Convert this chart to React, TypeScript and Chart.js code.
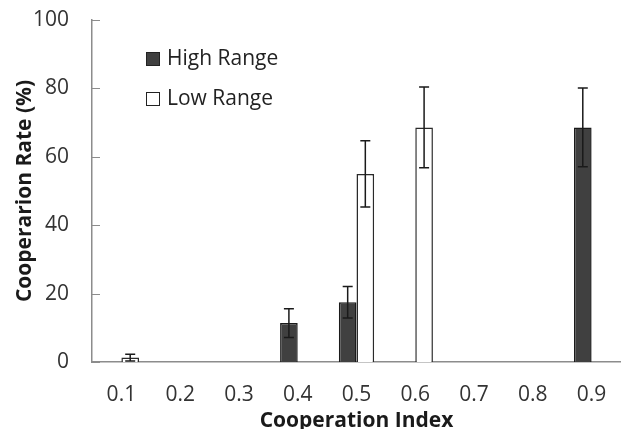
import React, { useEffect, useRef } from "react";
import { Chart, registerables } from "chart.js";

Chart.register(...registerables);

const categories = ["0.1", "0.2", "0.3", "0.4", "0.5", "0.6", "0.7", "0.8", "0.9"];
const highValues = [null, null, null, 11.4, 17.5, null, null, null, 68.6];
const highErrors = [null, null, null, 4.2, 4.6, null, null, null, 11.5];
const lowValues = [1.3, null, null, null, 55, 68.6, null, null, null];
const lowErrors = [1.0, null, null, null, 9.7, 11.8, null, null, null];
const yTicks = [0, 20, 40, 60, 80, 100];

const FONT = "'Open Sans', 'Noto Sans', sans-serif";

const errorBarPlugin = {
  id: "errorBars",
  afterDatasetsDraw(chart: any) {
    const { ctx, scales } = chart;
    const y = scales.y;
    const errs = [highErrors, lowErrors];
    chart.data.datasets.forEach((ds: any, di: number) => {
      const meta = chart.getDatasetMeta(di);
      meta.data.forEach((bar: any, i: number) => {
        const v = ds.data[i];
        const e = errs[di][i];
        if (v == null || e == null) return;
        const x = bar.x;
        const yt = y.getPixelForValue(v + e);
        const yb = y.getPixelForValue(Math.max(0, v - e));
        ctx.save();
        ctx.strokeStyle = "#1a1a1a";
        ctx.lineWidth = 1.5;
        ctx.beginPath();
        ctx.moveTo(x, yt);
        ctx.lineTo(x, yb);
        ctx.moveTo(x - 5, yt);
        ctx.lineTo(x + 5, yt);
        ctx.moveTo(x - 5, yb);
        ctx.lineTo(x + 5, yb);
        ctx.stroke();
        ctx.restore();
      });
    });
  },
};

const innerTicksPlugin = {
  id: "innerTicks",
  afterDraw(chart: any) {
    const { ctx, scales, chartArea } = chart;
    const y = scales.y;
    ctx.save();
    ctx.strokeStyle = "#8c8c8c";
    ctx.lineWidth = 1;
    yTicks.forEach((t) => {
      const py = Math.round(y.getPixelForValue(t)) + 0.5;
      ctx.beginPath();
      ctx.moveTo(chartArea.left, py);
      ctx.lineTo(chartArea.left + 8, py);
      ctx.stroke();
    });
    ctx.restore();
  },
};

const legendPlugin = {
  id: "customLegend",
  afterDraw(chart: any) {
    const { ctx } = chart;
    const x0 = 146;
    const rows = [59, 99];
    chart.data.datasets.forEach((ds: any, i: number) => {
      const cy = rows[i];
      ctx.save();
      ctx.fillStyle = ds.backgroundColor;
      ctx.fillRect(x0, cy - 7, 14, 14);
      ctx.strokeStyle = "#222";
      ctx.lineWidth = 1;
      ctx.strokeRect(x0 + 0.5, cy - 6.5, 13, 13);
      ctx.fillStyle = "#222";
      ctx.font = `21px ${FONT}`;
      ctx.textBaseline = "middle";
      ctx.textAlign = "left";
      ctx.fillText(ds.label, x0 + 21, cy);
      ctx.restore();
    });
  },
};

export default function App() {
  const ref = useRef<HTMLCanvasElement | null>(null);
  useEffect(() => {
    if (!ref.current) return;
    const chart = new Chart(ref.current, {
      type: "bar",
      data: {
        labels: categories,
        datasets: [
          {
            label: "High Range",
            data: highValues as any,
            backgroundColor: "#404040",
            borderColor: "#1a1a1a",
            borderWidth: 1.5,
            categoryPercentage: 0.6,
            barPercentage: 1,
          },
          {
            label: "Low Range",
            data: lowValues as any,
            backgroundColor: "#ffffff",
            borderColor: "#2a2a2a",
            borderWidth: 1.5,
            categoryPercentage: 0.6,
            barPercentage: 1,
          },
        ],
      },
      options: {
        animation: false,
        responsive: false,
        maintainAspectRatio: false,
        layout: { padding: { top: 20, right: 0, bottom: 0, left: 0 } },
        plugins: { legend: { display: false }, tooltip: { enabled: false } },
        scales: {
          x: {
            grid: { display: false, drawTicks: false },
            border: { display: true, color: "#8c8c8c", width: 1.5 },
            ticks: { color: "#333", font: { family: FONT, size: 21 }, padding: 20 },
            title: {
              display: true,
              text: "Cooperation Index",
              color: "#1a1a1a",
              font: { family: FONT, size: 21, weight: "bold", lineHeight: 1 },
              padding: { top: 0, bottom: -3 },
            },
            afterFit: (s: any) => {
              s.height = 67;
              s.paddingLeft = 0;
              s.paddingRight = 0;
            },
          },
          y: {
            min: 0,
            max: 100,
            grid: { display: false, drawTicks: false },
            border: { display: true, color: "#8c8c8c", width: 1.5 },
            ticks: {
              stepSize: 20,
              color: "#333",
              font: { family: FONT, size: 21 },
              padding: 23,
            },
            title: {
              display: true,
              text: "Cooperarion Rate (%)",
              color: "#1a1a1a",
              font: { family: FONT, size: 21, weight: "bold", lineHeight: 1.2 },
              padding: { top: 12, bottom: 0 },
            },
            afterFit: (s: any) => {
              s.width = 92;
              s.paddingTop = 0;
              s.paddingBottom = 0;
            },
          },
        },
      },
      plugins: [errorBarPlugin, innerTicksPlugin, legendPlugin],
    });
    return () => chart.destroy();
  }, []);
  return (
    <div style={{ position: "fixed", left: 0, top: 0, width: 621, height: 429, background: "#fff" }}>
      <canvas ref={ref} width={621} height={429} style={{ display: "block" }} />
    </div>
  );
}
